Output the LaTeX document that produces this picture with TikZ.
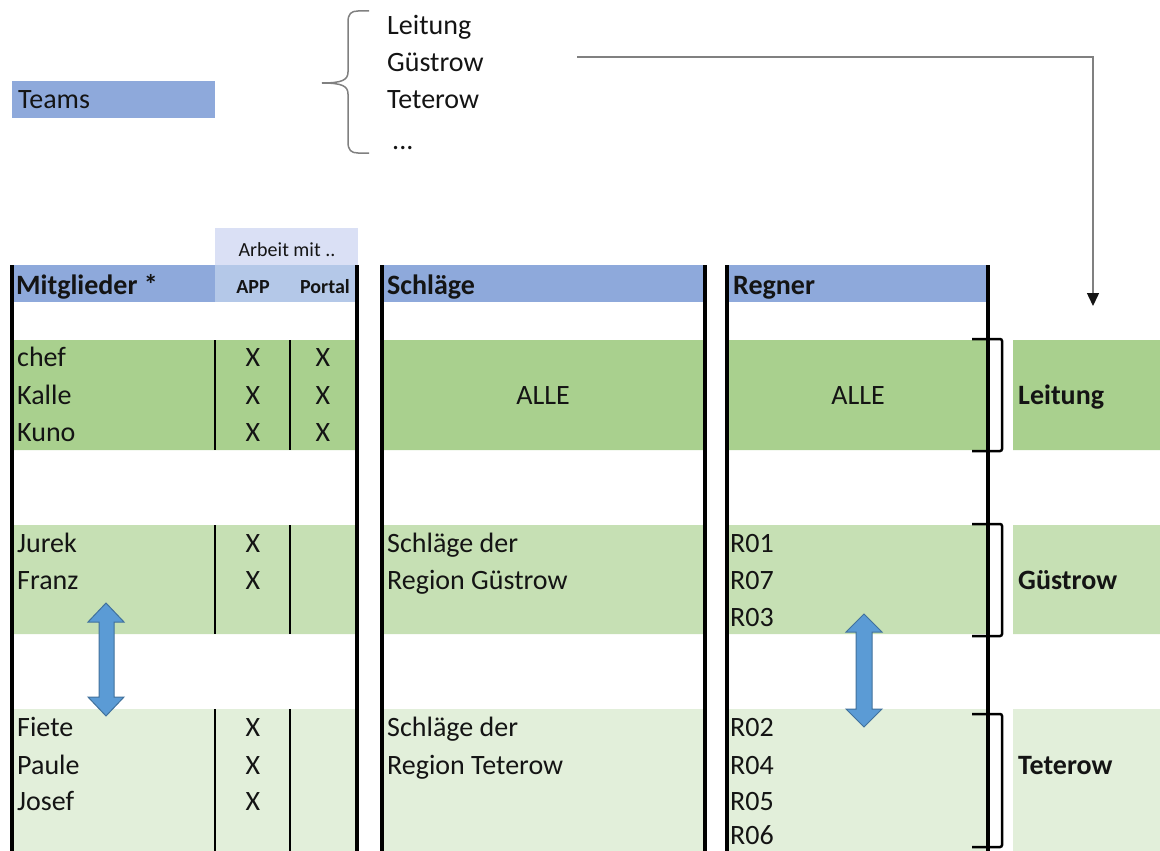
\documentclass[tikz,border=0pt]{standalone}
\usepackage{fontspec}
\setmainfont{Carlito}
\usetikzlibrary{arrows.meta}

\definecolor{headblue}{HTML}{8EA9DB}
\definecolor{subblue}{HTML}{B4C8E8}
\definecolor{arbeitblue}{HTML}{DAE0F5}
\definecolor{leitgreen}{HTML}{A9D08E}
\definecolor{guegreen}{HTML}{C6E0B4}
\definecolor{tetgreen}{HTML}{E2EFDA}
\definecolor{arrowblue}{HTML}{5B9BD5}
\definecolor{arrowedge}{HTML}{41719C}
\definecolor{linegray}{HTML}{808080}
\definecolor{ink}{HTML}{141414}

\begin{document}
\begin{tikzpicture}[x=1pt, y=-1pt,
  txt/.style={anchor=west, inner sep=0pt, text=ink, text height=18pt, text depth=0pt, font=\fontsize{28}{33}\selectfont},
  btxt/.style={txt, font=\fontsize{28}{33}\selectfont\bfseries},
  ctxt/.style={txt, anchor=center},
  small/.style={inner sep=0pt, text=ink, text height=13pt, text depth=0pt, font=\fontsize{20}{24}\selectfont},
  bar/.style={line width=4pt},
  thin/.style={line width=2pt},
  bracket/.style={line width=2.5pt, rounded corners=2pt},
  dblarrow/.style={fill=arrowblue, draw=arrowedge, line width=1pt},
  line/.style={draw=linegray, line width=1.5pt, -{Triangle[length=13pt, width=12pt, color=ink]}}
]
    \useasboundingbox (0,0) rectangle (1160,851);

    % teams and the list
    \fill[headblue] (12,81) rectangle (215,118);
    \node [txt] (teams) at (18,100) {Teams};
    \draw[linegray, line width=1.5pt] (369,11) -- (358,11) .. controls (351,11) and (348,14) .. (348,22) -- (348,72)
      .. controls (348,80) and (342,83) .. (322,83) .. controls (342,83) and (348,86) .. (348,94)
      -- (348,142) .. controls (348,150) and (351,153) .. (358,153) -- (369,153);
    \node [txt] (tleitung) at (387,26) {Leitung};
    \node [txt] (tguestrow) at (387,63) {Güstrow};
    \node [txt] (tteterow) at (387,100) {Teterow};
    \node [txt] (tdots) at (392,140) {...};
    \coordinate (listout) at (577,57);
    \coordinate (teamsin) at (1093,306);
    \path [line] (listout) -| (teamsin);

    % header
    \fill[arbeitblue] (215,228) rectangle (358,265);
    \fill[headblue] (12,265) rectangle (215,302);
    \fill[subblue] (215,265) rectangle (357,302);
    \fill[headblue] (382,265) rectangle (705,302);
    \fill[headblue] (727,265) rectangle (988,302);
    \node [small] (arbeit) at (287,250) {Arbeit mit ..};
    \node [btxt] (mitglieder) at (16,285) {Mitglieder *};
    \node [small, font=\fontsize{20}{24}\selectfont\bfseries] (app) at (253,287) {APP};
    \node [small, font=\fontsize{20}{24}\selectfont\bfseries] (portal) at (325,287) {Portal};
    \node [btxt] (schlaege) at (387,285) {Schläge};
    \node [btxt] (regner) at (733,285) {Regner};

    % team bands
    \fill[leitgreen] (12,340) rectangle (357,450) (382,340) rectangle (705,450)
      (727,340) rectangle (988,450) (1013,340) rectangle (1160,450);
    \fill[guegreen] (12,525) rectangle (357,634) (382,525) rectangle (705,634)
      (727,525) rectangle (988,634) (1013,525) rectangle (1160,634);
    \fill[tetgreen] (12,709) rectangle (357,851) (382,709) rectangle (705,851)
      (727,709) rectangle (988,851) (1013,709) rectangle (1160,851);

    % thin column lines
    \draw[thin] (215,340) -- (215,450) (290,340) -- (290,450);
    \draw[thin] (215,525) -- (215,634) (290,525) -- (290,634);
    \draw[thin] (215,709) -- (215,851) (290,709) -- (290,851);

    % thick column lines
    \draw[bar] (12,265) -- (12,851) (357,265) -- (357,851);
    \draw[bar] (382,265) -- (382,851) (705,265) -- (705,851);
    \draw[bar] (727,265) -- (727,851) (988,265) -- (988,851);

    % brackets
    \draw[bracket] (972,339) -- (1002,339) -- (1002,451) -- (972,451);
    \draw[bracket] (972,524) -- (1002,524) -- (1002,636) -- (972,636);
    \draw[bracket] (972,714) -- (1002,714) -- (1002,847) -- (972,847);

    % Leitung
    \node [txt] (chef) at (17,357) {chef};
    \node [txt] (kalle) at (17,395) {Kalle};
    \node [txt] (kuno) at (17,432) {Kuno};
    \node [ctxt] (chefapp) at (253,357) {X};
    \node [ctxt] (kalleapp) at (253,395) {X};
    \node [ctxt] (kunoapp) at (253,432) {X};
    \node [ctxt] (chefportal) at (323,357) {X};
    \node [ctxt] (kalleportal) at (323,395) {X};
    \node [ctxt] (kunoportal) at (323,432) {X};
    \node [ctxt] (alleschl) at (543,395) {ALLE};
    \node [ctxt] (alleregn) at (858,395) {ALLE};
    \node [btxt] (leitung) at (1018,395) {Leitung};

    % Guestrow
    \node [txt] (jurek) at (17,543) {Jurek};
    \node [txt] (franz) at (17,580) {Franz};
    \node [ctxt] (jurekapp) at (253,543) {X};
    \node [ctxt] (franzapp) at (253,580) {X};
    \node [txt] (gschl1) at (387,543) {Schläge der};
    \node [txt] (gschl2) at (387,580) {Region Güstrow};
    \node [txt] (r01) at (730,543) {R01};
    \node [txt] (r07) at (730,580) {R07};
    \node [txt] (r03) at (730,617) {R03};
    \node [btxt] (guestrow) at (1018,580) {Güstrow};

    % Teterow
    \node [txt] (fiete) at (17,727) {Fiete};
    \node [txt] (paule) at (17,765) {Paule};
    \node [txt] (josef) at (17,801) {Josef};
    \node [ctxt] (fieteapp) at (253,727) {X};
    \node [ctxt] (pauleapp) at (253,765) {X};
    \node [ctxt] (josefapp) at (253,801) {X};
    \node [txt] (tschl1) at (387,727) {Schläge der};
    \node [txt] (tschl2) at (387,765) {Region Teterow};
    \node [txt] (r02) at (730,727) {R02};
    \node [txt] (r04) at (730,765) {R04};
    \node [txt] (r05) at (730,801) {R05};
    \node [txt] (r06) at (730,835) {R06};
    \node [btxt] (teterow) at (1018,765) {Teterow};

    % double arrows
    \draw[dblarrow] (106,603) -- (124,622) -- (114,622) -- (114,697) -- (124,697) -- (106,716)
      -- (88,697) -- (99,697) -- (99,622) -- (88,622) -- cycle;
    \draw[dblarrow] (864,614) -- (882,632) -- (872,632) -- (872,709) -- (882,709) -- (864,727)
      -- (846,709) -- (856,709) -- (856,632) -- (846,632) -- cycle;
\end{tikzpicture}
\end{document}
